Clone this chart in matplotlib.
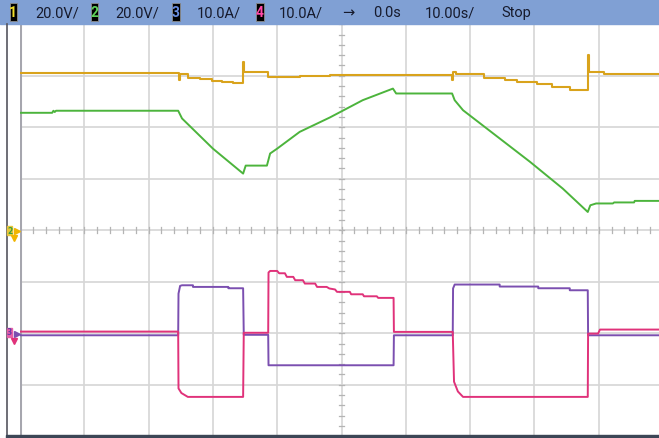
import numpy as np
import matplotlib

matplotlib.use("Agg")
import matplotlib.pyplot as plt
from matplotlib.patches import Rectangle

# Scope settings
CH_SCALE = {1: 20.0, 2: 20.0, 3: 10.0, 4: 10.0}   # units per division
CH_OFFSET = {1: 0.0, 2: 0.0, 3: -2.0, 4: -2.0}    # ground marker, divisions
TIME_PER_DIV = 10.0

# Channel 1 (V), drawn as steps (value holds until the next time)
ch1_t = [-50.0, -25.3, -25.1, -23.9, -22.0, -20.1, -18.6, -16.9, -15.28, -15.2,
         -11.4, -6.5, -1.8, 17.2, 17.4, 17.8, 22.2, 25.4, 27.3, 30.4, 32.7,
         35.5, 38.35, 38.45, 40.8, 50.0]
ch1_v = [61.1, 58.3, 60.5, 59.3, 58.6, 58.0, 57.6, 57.0, 65.4, 61.5,
         59.6, 59.9, 60.4, 58.3, 61.5, 60.5, 59.3, 58.5, 57.6, 56.7, 55.7,
         54.4, 68.0, 61.5, 60.6, 60.6]

# Channel 2 (V)
ch2_t = [-50.0, -45.0, -44.8, -44.6, -44.4, -25.4, -24.8, -20.0, -15.3, -14.9,
         -11.6, -11.1, -10.0, -6.5, -1.8, 3.3, 8.0, 8.5, 17.2, 17.6, 18.9,
         29.3, 34.4, 38.3, 38.7, 39.6, 42.2, 42.4, 45.5, 45.6, 50.0]
ch2_v = [45.6, 45.6, 46.4, 45.9, 46.4, 46.4, 43.4, 31.7, 22.0, 25.1,
         25.1, 29.8, 31.7, 38.2, 43.8, 50.5, 55.0, 53.1, 53.1, 50.5, 46.6,
         26.6, 16.2, 7.1, 9.7, 10.4, 10.4, 10.8, 10.8, 11.4, 11.4]

# Channel 3 (A)
ch3_t = [-50.0, -25.4, -25.35, -25.1, -24.8, -23.1, -23.1, -17.6, -17.6, -15.3,
         -15.2, -11.4, -11.35, 8.1, 8.15, 17.3, 17.35, 17.6, 24.6, 24.6,
         30.6, 30.6, 35.5, 35.5, 38.3, 38.35, 50.0]
ch3_v = [-0.39, -0.39, 7.7, 9.2, 9.32, 9.32, 9.0, 9.0, 8.74, 8.74,
         -0.3, -0.3, -6.21, -6.21, -0.39, -0.39, 8.7, 9.46, 9.46, 9.07,
         9.07, 8.74, 8.74, 8.35, 8.35, -0.39, -0.39]

# Channel 4 (A)
ch4_t = [-50.0, -25.4, -25.35, -24.9, -23.9, -15.3, -15.2, -11.4, -11.35, -11.1,
         -10.0, -9.7, -8.8, -8.5, -7.5, -7.2, -6.0, -5.7, -4.1, -3.8,
         -2.3, -1.9, -1.0, -0.7, 1.3, 1.5, 3.3, 3.5, 5.5, 5.7,
         8.1, 8.15, 17.3, 17.5, 18.1, 18.9, 38.3, 38.35, 39.9, 40.2, 50.0]
ch4_v = [0.33, 0.33, -10.7, -11.6, -12.35, -12.35, 0.1, 0.1, 11.8, 12.1,
         12.1, 11.65, 11.65, 10.95, 10.95, 10.3, 10.3, 9.65, 9.65, 9.0,
         9.0, 8.7, 8.5, 8.04, 8.04, 7.57, 7.57, 7.18, 7.18, 6.87,
         6.87, 0.27, 0.27, -9.4, -11.3, -12.35, -12.35, -0.06, -0.06, 0.72, 0.72]

HEADER = [("1", "20.0V/"), ("2", "20.0V/"), ("3", "10.0A/"), ("4", "10.0A/")]
TIMEBASE = ["\u2192", "0.0s", "10.00s/", "Stop"]

COLORS = {1: "#d9a31c", 2: "#4cb43c", 3: "#7b4fb0", 4: "#e0327a"}
BADGE = {1: "#f0dc28", 2: "#5ed25a", 3: "#6a8ee0", 4: "#ff48a8"}

W, H = 659, 439
fig = plt.figure(figsize=(W / 100, H / 100), dpi=100)
fig.patch.set_facecolor("white")

# graticule area in pixels: x 20..663 (10 div), y 25..437 (8 div)
x0, x1, y0, y1 = 20.0, 663.0, 25.2, 437.3
ax = fig.add_axes([x0 / W, (H - y1) / H, (x1 - x0) / W, (y1 - y0) / H])
ax.set_xlim(-5 * TIME_PER_DIV, 5 * TIME_PER_DIV)
ax.set_ylim(-4, 4)
ax.axis("off")

grid_kw = dict(color="#d6d6d6", lw=1.2, zorder=1)
for k in range(1, 11):
    ax.axvline(-50 + k * TIME_PER_DIV, **grid_kw)
for k in range(-4, 5):
    ax.axhline(k, **grid_kw)
ax.axvline(-50, color="#a6a6ae", lw=2.2, zorder=2)

# minor ticks on the centre cross
for xt in np.arange(-50, 50.1, TIME_PER_DIV / 5):
    ax.plot([xt, xt], [-0.06, 0.06], color="#b4b4b4", lw=0.9, zorder=1)
for yt in np.arange(-4, 4.01, 0.2):
    ax.plot([-0.45, 0.45], [yt, yt], color="#b4b4b4", lw=0.9, zorder=1)


def to_div(ch, vals):
    return np.asarray(vals) / CH_SCALE[ch] + CH_OFFSET[ch]


ax.step(ch1_t, to_div(1, ch1_v), where="post", color=COLORS[1], lw=1.5, zorder=5)
ax.plot(ch2_t, to_div(2, ch2_v), color=COLORS[2], lw=1.4, zorder=5)
ax.plot(ch3_t, to_div(3, ch3_v), color=COLORS[3], lw=1.4, zorder=5)
ax.plot(ch4_t, to_div(4, ch4_v), color=COLORS[4], lw=1.4, zorder=6)

# overlay in pixel coordinates: status bar, frame, ground markers
deco = fig.add_axes([0, 0, 1, 1], facecolor="none")
deco.set_xlim(0, W)
deco.set_ylim(H, 0)
deco.axis("off")

deco.add_patch(Rectangle((0, 0), W, 24.5, color="#80a0d4", zorder=1))
font = dict(family=["Roboto", "DejaVu Sans"], fontsize=10.5, color="#161a2c", va="center")

badge_x = [9.5, 90.5, 172, 256]
text_x = [35, 115, 197, 279]
for (num, label), bx, tx in zip(HEADER, badge_x, text_x):
    ch = int(num)
    deco.add_patch(Rectangle((bx, 3.5), 7.5, 18, facecolor="black",
                             edgecolor="#8c8c8c", lw=0.6, zorder=2))
    deco.text(bx + 3.75, 12.8, num, ha="center", zorder=3,
              **{**font, "color": BADGE[ch], "fontsize": 10, "fontweight": "bold"})
    deco.text(tx, 13, label, ha="left", zorder=3, **font)

for label, tx in zip(TIMEBASE, [342, 373, 425, 501]):
    deco.text(tx, 13, label, ha="left", zorder=3, **font)

# frame
deco.plot([6.5, 6.5], [24.5, 437], color="#55555f", lw=1.2, zorder=2)
deco.add_patch(Rectangle((6, 436.3), W, 2.7, color="#3c4656", zorder=2))

# ground markers
deco.add_patch(Rectangle((7, 226.5), 5, 9, color="#e8c63a", zorder=3))
deco.text(9.5, 231.2, "2", ha="center", va="center", fontsize=5.5,
          color="#3aa03a", fontweight="bold", zorder=4)
deco.plot(16.5, 231.7, marker=">", ms=5, color="#f0b400", zorder=4)
deco.plot(13.5, 238.5, marker="v", ms=4, color="#f0b400", zorder=4)

deco.add_patch(Rectangle((7, 328.5), 5, 9, color="#e85fa8", zorder=3))
deco.text(9.5, 333, "3", ha="center", va="center", fontsize=5.5,
          color="#6a3aa8", fontweight="bold", zorder=4)
deco.plot(16.5, 334.5, marker=">", ms=5, color="#7b4fb0", zorder=4)
deco.plot(13.5, 341.5, marker="v", ms=4, color="#e0327a", zorder=4)

fig.savefig("out.png", dpi=100)
